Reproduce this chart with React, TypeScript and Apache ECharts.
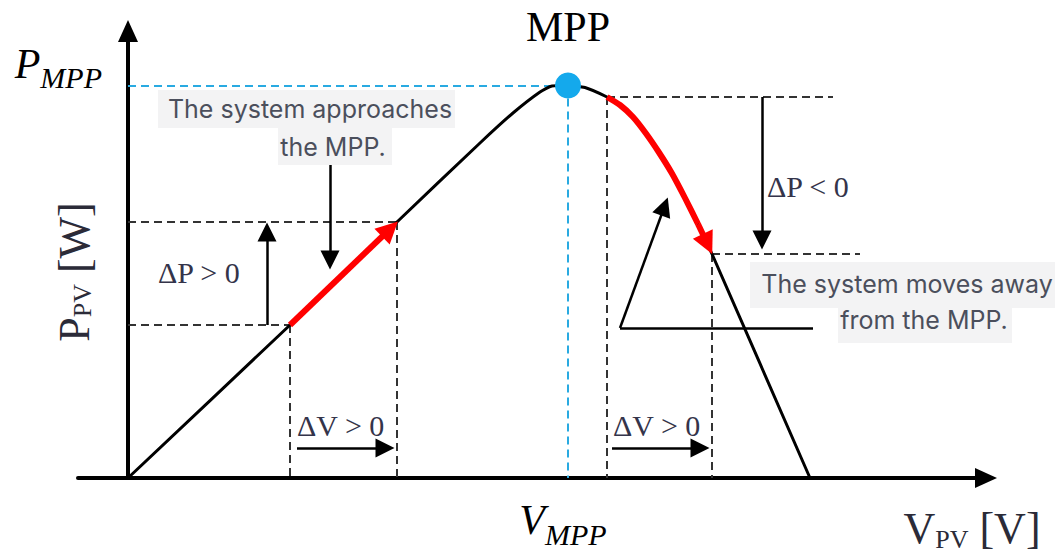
import React, { useEffect, useRef } from "react";
import * as echarts from "echarts";

// P-V curve of the PV module (V and P in arbitrary units)
const curveV = [0, 32.4, 53.8, 70.4, 77, 82.4, 84.8, 88, 91.4, 95.8, 98.4, 101, 103.6, 106.2, 108.8, 111.4, 114, 116.8, 136.4];
const curveP = [0, 30.6, 51.2, 67, 73, 77.2, 78.4, 78.5, 78.1, 76.2, 74.6, 72.2, 68.9, 65.1, 60.9, 56, 50.8, 44.8, 0];

// red segment after the MPP (moving away)
const awayV = [95.8, 98.4, 101, 103.6, 106.2, 108.8, 111.4, 114];
const awayP = [76.2, 74.6, 72.2, 68.9, 65.1, 60.9, 56, 50.8];

// maximum power point
const V_MPP = 88;
const P_MPP = 78.5;

// red arrows (approach / move away)
const redArrows = [
  [[32.4, 30.6], [52.4, 49.8]],
  [[114, 50.8], [115.9, 46.8]],
];

// black annotation arrows
const blackArrows = [
  [[27.8, 30.6], [27.8, 49.2]],
  [[40.4, 62.6], [40.4, 43.6]],
  [[33.8, 6], [51.4, 6]],
  [[96.8, 6], [114.4, 6]],
  [[126.8, 76.2], [126.8, 47.6]],
  [[98.4, 30], [107.3, 54.3]],
];
const plainLines = [[[98.4, 30], [137, 30]]];

// dashed guides
const dashedGuides = [
  [[0, 51.2], [53.8, 51.2]],
  [[0, 30.6], [32.4, 30.6]],
  [[32.4, 30.6], [32.4, 0]],
  [[53.8, 51.2], [53.8, 0]],
  [[95.8, 76.2], [141, 76.2]],
  [[116.8, 44.8], [146.4, 44.8]],
  [[95.8, 76.2], [95.8, 0]],
  [[116.8, 44.8], [116.8, 0]],
];
const mppGuides = [
  [[0, P_MPP], [V_MPP, P_MPP]],
  [[V_MPP, P_MPP], [V_MPP, 0]],
];

const deltaLabels = ["ΔP > 0", "ΔP < 0", "ΔV > 0", "ΔV > 0"];
const noteA = ["The system approaches", "the MPP."];
const noteB = ["The system moves away", "from the MPP."];

const seg = (pairs: number[][][]) => pairs.map((c) => ({ coords: c }));

const serif = "Liberation Serif";
const sans = "Inter";
const noteColor = "#4b4f5c";
const noteBg = "#f3f3f4";
const deltaColor = "#34344a";

function deltaText(text: string, x: number, y: number) {
  return {
    type: "text",
    x,
    y,
    z: 20,
    style: { text, fontSize: 30, fontFamily: serif, fill: deltaColor, align: "left", verticalAlign: "middle" },
  };
}
function noteText(text: string, x: number, y: number) {
  return {
    type: "text",
    x,
    y,
    z: 21,
    style: { text, fontSize: 25, fontFamily: sans, fill: noteColor, align: "center", verticalAlign: "middle" },
  };
}
function noteRect(x: number, y: number, w: number, h: number) {
  return { type: "rect", z: 19, shape: { x, y, width: w, height: h }, style: { fill: noteBg } };
}

const mathRich = {
  b: { fontSize: 42, fontStyle: "italic", fontFamily: serif, color: "#000", lineHeight: 42 },
  s: { fontSize: 30, fontStyle: "italic", fontFamily: serif, color: "#000", lineHeight: 30, padding: [28, 0, 0, 0] },
};

export default function App() {
  const ref = useRef<HTMLDivElement>(null);
  useEffect(() => {
    const chart = echarts.init(ref.current!, null, { renderer: "svg" });
    const option: any = {
      animation: false,
      backgroundColor: "#fff",
      grid: { left: 78, right: 71, top: 31, bottom: 77, containLabel: false, outerBoundsMode: "none" },
      xAxis: {
        type: "value",
        min: -10,
        max: 171.6,
        splitLine: { show: false },
        axisTick: { show: false },
        axisLine: { show: true, onZero: true, symbol: ["none", "triangle"], symbolSize: [20, 22], lineStyle: { color: "#000", width: 4 } },
        axisLabel: {
          customValues: [V_MPP],
          formatter: () => "{b|V}{s|MPP}",
          margin: 21,
          padding: [0, 10, 0, 0],
          rich: mathRich,
        },
      },
      yAxis: {
        type: "value",
        min: 0,
        max: 89.4,
        splitLine: { show: false },
        axisTick: { show: false },
        axisLine: { show: true, onZero: true, symbol: ["none", "triangle"], symbolSize: [20, 22], lineStyle: { color: "#000", width: 4 } },
        axisLabel: {
          customValues: [P_MPP],
          formatter: () => "{b|P}{s|MPP}",
          margin: -24,
          padding: [0, 0, 44, 0],
          rich: mathRich,
        },
      },
      series: [
        {
          type: "lines",
          coordinateSystem: "cartesian2d",
          data: seg(dashedGuides),
          symbol: "none",
          lineStyle: { color: "#333", width: 2, type: [8, 5], opacity: 1 },
          z: 2,
        },
        {
          type: "lines",
          coordinateSystem: "cartesian2d",
          data: seg(mppGuides),
          symbol: "none",
          lineStyle: { color: "#29aae1", width: 2, type: [8, 5], opacity: 1 },
          z: 2,
        },
        {
          type: "line",
          data: curveV.map((v, i) => [v, curveP[i]]),
          smooth: 0.2,
          symbol: "none",
          lineStyle: { color: "#000", width: 3 },
          z: 3,
        },
        {
          type: "line",
          data: awayV.map((v, i) => [v, awayP[i]]),
          smooth: 0.2,
          symbol: "none",
          lineStyle: { color: "#ff0000", width: 6 },
          z: 4,
        },
        {
          type: "lines",
          coordinateSystem: "cartesian2d",
          data: seg(redArrows),
          symbol: ["none", "triangle"],
          symbolSize: 22,
          lineStyle: { color: "#ff0000", width: 6, opacity: 1 },
          z: 5,
        },
        {
          type: "lines",
          coordinateSystem: "cartesian2d",
          data: seg(blackArrows),
          symbol: ["none", "triangle"],
          symbolSize: 19,
          lineStyle: { color: "#000", width: 2.5, opacity: 1 },
          z: 5,
        },
        {
          type: "lines",
          coordinateSystem: "cartesian2d",
          data: seg(plainLines),
          symbol: "none",
          lineStyle: { color: "#000", width: 2.5, opacity: 1 },
          z: 5,
        },
        {
          type: "scatter",
          data: [[V_MPP, P_MPP]],
          symbolSize: 26,
          itemStyle: { color: "#14a9ec", opacity: 1 },
          label: {
            show: true,
            position: "top",
            distance: 25,
            formatter: "MPP",
            fontSize: 42,
            fontFamily: serif,
            color: "#000",
          },
          z: 6,
        },
      ],
      graphic: [
        {
          type: "text",
          x: 74,
          y: 272,
          rotation: Math.PI / 2,
          z: 20,
          style: {
            text: "{a|P}{b|PV}{a| [W]}",
            align: "center",
            verticalAlign: "middle",
            rich: {
              a: { fontSize: 44, fontFamily: serif, fill: "#2b2b38", lineHeight: 44 },
              b: { fontSize: 26, fontFamily: serif, fill: "#2b2b38", lineHeight: 26, padding: [16, 0, 0, 0] },
            },
          },
        },
        {
          type: "text",
          x: 972,
          y: 528,
          z: 20,
          style: {
            text: "{a|V}{b|PV}{a| [V]}",
            align: "center",
            verticalAlign: "middle",
            rich: {
              a: { fontSize: 44, fontFamily: serif, fill: "#2b2b38", lineHeight: 44 },
              b: { fontSize: 26, fontFamily: serif, fill: "#2b2b38", lineHeight: 26, padding: [22, 0, 0, 0] },
            },
          },
        },
        deltaText(deltaLabels[0], 158, 272),
        deltaText(deltaLabels[1], 767, 186),
        deltaText(deltaLabels[2], 297, 425),
        deltaText(deltaLabels[3], 613, 425),
        noteRect(158, 90, 297, 38),
        noteRect(278, 128, 114, 37),
        noteText(noteA[0], 310, 109),
        noteText(noteA[1], 333, 147),
        noteRect(750, 262, 305, 46),
        noteRect(838, 308, 174, 35),
        noteText(noteB[0], 907, 284),
        noteText(noteB[1], 924, 320),
      ],
    };
    chart.setOption(option);
    return () => chart.dispose();
  }, []);
  return (
    <div
      ref={ref}
      style={{ position: "fixed", left: 0, top: 0, width: 1057, height: 555, background: "#fff" }}
    />
  );
}
